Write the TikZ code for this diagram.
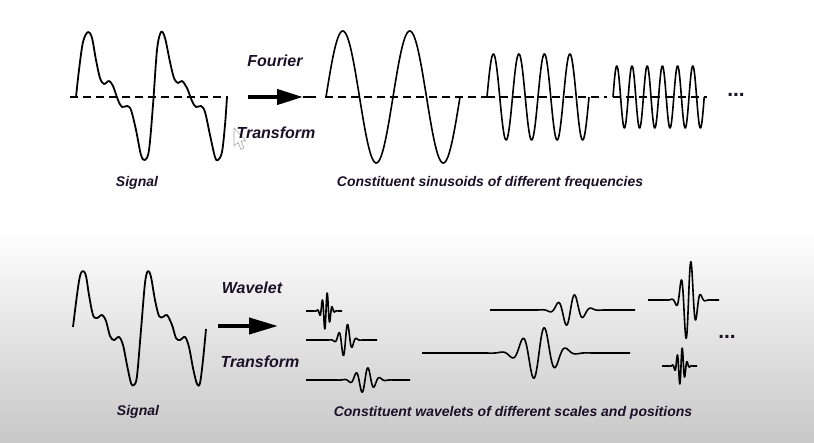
\documentclass[tikz,border=0pt]{standalone}
\usepackage{fontspec}
\setmainfont{Liberation Sans}
\usetikzlibrary{arrows.meta}
\definecolor{ink}{HTML}{1C1028}
\definecolor{bgbot}{HTML}{C8C8C8}
\begin{document}
\begin{tikzpicture}[x=1pt,y=-1pt,
  declare function={mw(\t,\c,\s,\p)=exp(-0.5*((\t-\c)/\s)^2)*sin(((\t-\c)/\p)*360);},
  lbl/.style={font=\fontsize{16}{19}\selectfont\bfseries\itshape, text=ink, inner sep=0pt},
  captext/.style={font=\fontsize{14}{17}\selectfont\bfseries\itshape, text=ink, inner sep=0pt},
  dotsty/.style={font=\fontsize{21}{24}\selectfont\bfseries, text=ink, inner sep=0pt},
  wave/.style={line width=1.6pt, black, line join=round},
  sig/.style={line width=1.8pt, black, line join=round},
  base/.style={line width=1.8pt, black},
  dashbase/.style={base, dash pattern=on 8pt off 5pt},
  bigarrow/.style={line width=4pt, black},
]
\useasboundingbox (0,0) rectangle (814,443);
\fill[white] (0,0) rectangle (814,443);
\shade[top color=white, bottom color=bgbot] (0,228) rectangle (814,443);

% ---------------- Fourier part ----------------
% signal
\draw[dashbase] (70,97) -- (228,97);
\draw[sig] (70,97) -- (76,97) plot[smooth, tension=0.55] coordinates {
 (76,97) (79,70) (83,42) (88,32) (92,38) (96,60) (100,78) (104,84) (109,81)
 (113,86) (118,100) (122,107) (127,106) (131,110) (136,130) (141,155) (145,160)
 (149,150) (153,105) (157,50) (161,32) (165,38) (170,62) (174,78) (178,83)
 (182,81) (187,88) (192,101) (196,107) (201,106) (205,112) (210,135) (215,157)
 (218,160) (222,152) (225,125) (227,97)};

% cursor
\draw[gray!70, fill=white, line width=0.6pt, line join=round]
  (234,128) -- (234,146) -- (238,142.5) -- (241,149.5) -- (244,148) -- (241,141) -- (246,141) -- cycle;

% arrow
\coordinate (fa) at (248,97);
\coordinate (fb) at (303,97);
\coordinate (fc) at (316,97);
\draw[bigarrow, -{Triangle[length=26pt,width=15pt]}] (fa) -- (fb);
\draw[line width=1.2pt] (fb) -- (fc);
\node[lbl] (fourier) at (275,61) {Fourier};
\node[lbl] (ftrans) at (276,133) {Transform};
\node[captext] (sig1) at (137,183) {Signal};

% constituent sinusoids
\draw[dashbase] (325,97) -- (488,97);
\draw[wave] plot[domain=326:460, samples=220] (\x,{97-66*sin(((\x-326)/67)*360)});
\draw[dashbase] (487,97) -- (607,97);
\draw[wave] plot[domain=487:589, samples=240] (\x,{97-43*sin(((\x-487)/25.5)*360)});
\draw[dashbase] (613,97) -- (707,97);
\draw[wave] plot[domain=613:704.2, samples=300] (\x,{97-31*sin(((\x-613)/15.2)*360)});
\node[dotsty] (dots1) at (736,95) {...};
\node[captext] (cap1) at (490,183) {Constituent sinusoids of different frequencies};

% ---------------- Wavelet part ----------------
\draw[sig] plot[smooth, tension=0.55] coordinates {
 (73,327) (77,295) (80,276) (83,271) (86,276) (89,295) (93,315) (97,318) (102,315)
 (106,321) (110,336) (114,340) (119,337) (123,345) (127,365) (131,383) (134,385)
 (137,376) (141,330) (145,283) (148,271) (151,277) (155,300) (159,316) (163,317)
 (167,315) (172,325) (176,338) (180,340) (185,337) (189,347) (193,368) (197,384)
 (200,383) (203,360) (206,329)};

\coordinate (wa) at (218,326);
\coordinate (wb) at (278,326);
\draw[bigarrow, -{Triangle[length=29pt,width=16pt]}] (wa) -- (wb);
\node[lbl] (wav) at (252,288) {Wavelet};
\node[lbl] (wtrans) at (260,362) {Transform};
\node[captext] (sig2) at (138,412) {Signal};

% wavelets
\draw[wave] plot[domain=306:342, samples=300] (\x,{311-19*mw(\x,326,3.5,5)});
\draw[wave] plot[domain=306:377, samples=300] (\x,{340-17*mw(\x,345.5,5,9)});
\draw[wave] plot[domain=306:410, samples=300] (\x,{380-13*mw(\x,365,8,12)});
\draw[wave] plot[domain=490:635, samples=300] (\x,{310-16.5*mw(\x,570.5,9.8,17)});
\draw[wave] plot[domain=422:630, samples=400] (\x,{353-27*mw(\x,539,14.5,22)});
\draw[wave] plot[domain=648:719, samples=300] (\x,{300-41.5*mw(\x,688.5,6,10)});
\draw[wave] plot[domain=662:697, samples=300] (\x,{366-19*mw(\x,681,3.5,5)});
\node[dotsty] (dots2) at (727,337) {...};
\node[captext] (cap2) at (513,413) {Constituent wavelets of different scales and positions};
\end{tikzpicture}
\end{document}
